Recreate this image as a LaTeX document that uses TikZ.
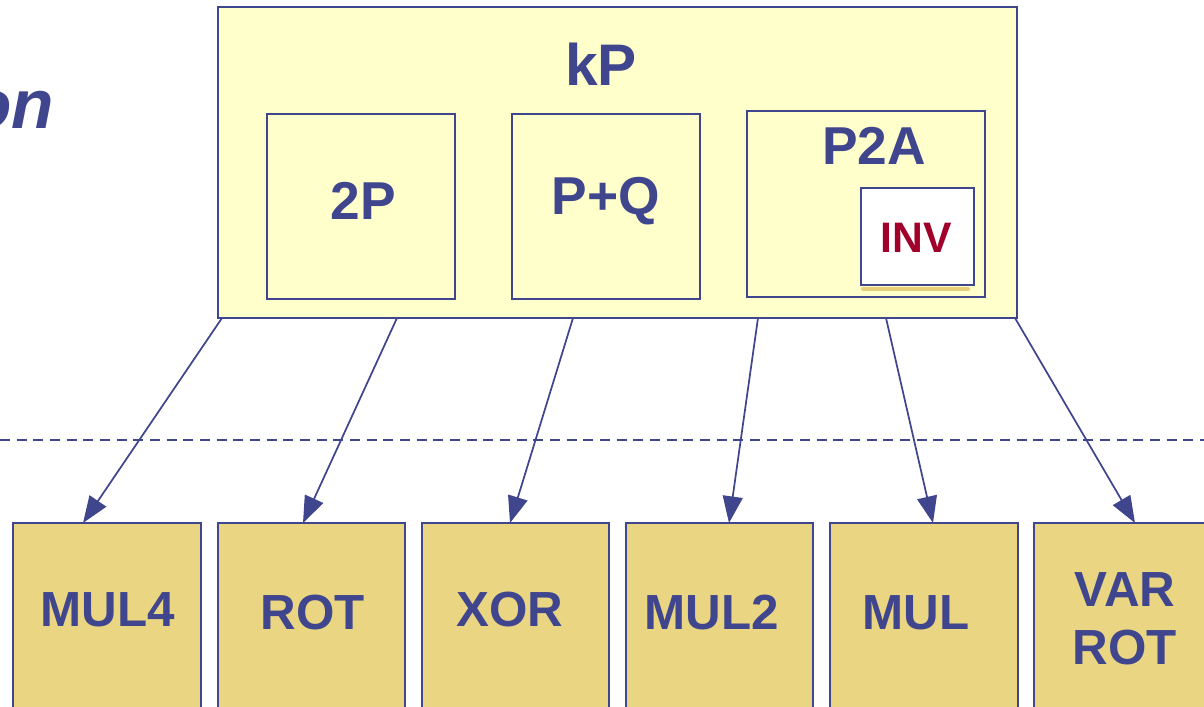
\documentclass[tikz,border=0pt]{standalone}
\usepackage{fontspec}
\setmainfont{Liberation Sans}
\usetikzlibrary{fit,calc,arrows.meta}
\definecolor{inkblue}{HTML}{40468E}
\definecolor{paleyellow}{HTML}{FFFFCC}
\definecolor{unittan}{HTML}{EAD582}
\definecolor{invred}{HTML}{A0002A}
\definecolor{shadowtan}{HTML}{E6CF78}
\tikzset{
  box/.style={draw=inkblue, line width=1.5pt, inner sep=0pt},
  outerbox/.style={box, fill=paleyellow},
  innerbox/.style={box, fill=paleyellow},
  unitbox/.style={box, fill=unittan},
  invbox/.style={box, line width=1.2pt, fill=white},
  lbl/.style={inner sep=0pt, text=inkblue, font=\bfseries\fontsize{#1}{#1}\selectfont},
  lbl/.default=37,
  link/.style={draw=inkblue, line width=1.3pt, -{Triangle[length=20pt,width=15pt]}},
}
\begin{document}
\begin{tikzpicture}[x=0.75pt,y=-0.75pt]
  \useasboundingbox (0,0) rectangle (1204,707);
  \clip (0,0) rectangle (1204,707);

  % title fragment at the left edge
  \node[inner sep=0pt, anchor=base east, text=inkblue,
        font=\bfseries\itshape\fontsize{52}{52}\selectfont] (title) at (54,128) {on};

  % point multiplication block and its sub-operations
  \node[outerbox, fit={(218,7)(1017,318)}] (kPbox) {};
  \node[lbl=44] (kP) at (601,64) {kP};
  \node[innerbox, fit={(267,114)(455,299)}] (dbl) {};
  \node[lbl=40] (dbltxt) at (363,201) {2P};
  \node[innerbox, fit={(512,114)(700,299)}] (add) {};
  \node[lbl=40] (addtxt) at (606,201) {P+Q};
  \node[innerbox, fit={(747,111)(985,297)}] (p2a) {};
  \node[lbl=40] (p2atxt) at (874,146) {P2A};
  \draw[draw=shadowtan, line width=3pt, line cap=round] (863,289) -- (968,289);
  \node[invbox, fit={(861,188)(974,285)}] (inv) {};
  \node[lbl=32, text=invred] (invtxt) at (916,238) {INV};

  % separation between levels
  \coordinate (dl) at (0,440);
  \coordinate (dr) at (1204,440);
  \draw[inkblue, line width=2pt, dash pattern=on 7.5pt off 5pt] (dl) -- (dr);

  % arithmetic units
  \node[unitbox, fit={(13,523)(201,720)}] (mul4) {};
  \node[lbl] (mul4txt) at (108,610) {MUL4};
  \node[unitbox, fit={(218,523)(405,720)}] (rot) {};
  \node[lbl] (rottxt) at (313,613) {ROT};
  \node[unitbox, fit={(422,523)(609,720)}] (xor) {};
  \node[lbl] (xortxt) at (510,610) {XOR};
  \node[unitbox, fit={(626,523)(813,720)}] (mul2) {};
  \node[lbl] (mul2txt) at (712,613) {MUL2};
  \node[unitbox, fit={(830,523)(1018,720)}] (mul) {};
  \node[lbl] (multxt) at (916,613) {MUL};
  \node[unitbox, fit={(1034,523)(1222,720)}] (varrot) {};
  \node[lbl] (vartxt) at (1125,590) {VAR};
  \node[lbl] (vrottxt) at (1125,648) {ROT};

  % connections from the kP block to the units
  \coordinate (s1) at (222,318);
  \coordinate (s2) at (397,318);
  \coordinate (s3) at (573,318);
  \coordinate (s4) at (758,318);
  \coordinate (s5) at (886,318);
  \coordinate (s6) at (1015,318);
  \coordinate (t1) at (83,523);
  \coordinate (t2) at (303,523);
  \coordinate (t3) at (510,523);
  \coordinate (t4) at (729,523);
  \coordinate (t5) at (933,523);
  \coordinate (t6) at (1135,523);
  \draw[link] (s1) -- (t1);
  \draw[link] (s2) -- (t2);
  \draw[link] (s3) -- (t3);
  \draw[link] (s4) -- (t4);
  \draw[link] (s5) -- (t5);
  \draw[link] (s6) -- (t6);
\end{tikzpicture}
\end{document}
